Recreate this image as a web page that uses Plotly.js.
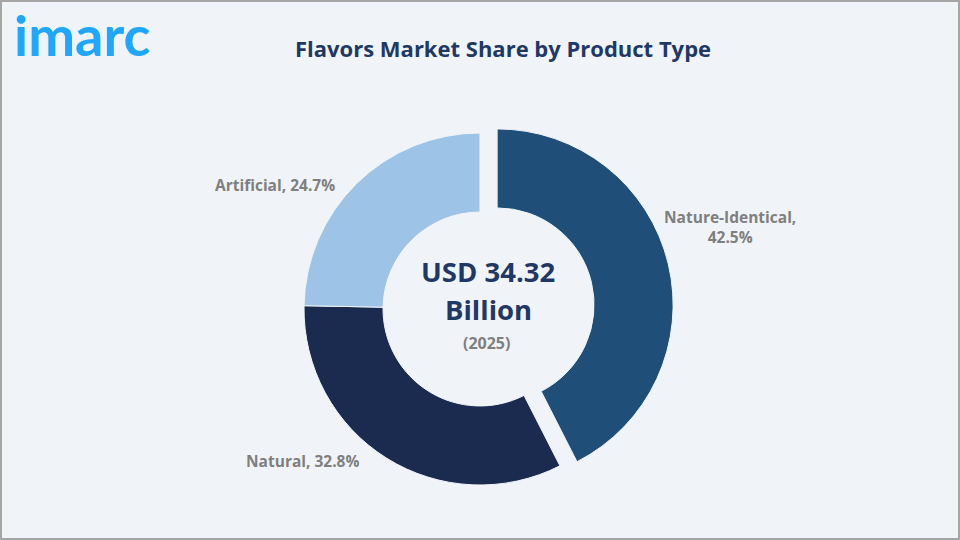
<!DOCTYPE html>
<html><head><meta charset="utf-8">
<script src="https://cdn.plot.ly/plotly-3.0.1.min.js"></script>
<style>html,body{margin:0;padding:0;background:#f0f4f9}#c{width:960px;height:540px}</style>
</head><body><div id="c"></div>
<script>
const categories = ["Nature-Identical", "Natural", "Artificial"];
const shares = [42.5, 32.8, 24.7];
const sliceColors = ["#1f4e79", "#1a2b4f", "#9dc3e6"];
const pulls = [0.1, 0, 0];
const labelTexts = ["Nature-Identical,<br>42.5%", "Natural, 32.8%", "Artificial, 24.7%"];
const labelX = [730, 302, 275];
const labelY = [227, 461, 185];
const W = 960, H = 540;
const px = x => x / W, py = y => 1 - y / H;
const cx = 480, cy = 309, rOuter = 176, maxPull = 0.1;
const half = rOuter * (1 + maxPull);
const textAnn = (text, x, y, size, color, weight, family) => ({
  text, x: px(x), y: py(y), xref: "paper", yref: "paper", showarrow: false,
  xanchor: "center", yanchor: "middle",
  font: {size, color, family: family || "'Open Sans', sans-serif", weight: weight || 700}
});
const annotations = categories.map((c, i) =>
  textAnn(labelTexts[i], labelX[i], labelY[i], 15.5, "#7f7f7f", 700));
annotations.push(textAnn("USD 34.32", 488, 271, 27.5, "#1f3864", 700));
annotations.push(textAnn("Billion", 488, 309, 27.5, "#1f3864", 700));
annotations.push(textAnn("(2025)", 486, 343, 16, "#7f7f7f", 700));
annotations.push(textAnn("imarc", 82, 35, 56, "#1ea7fd", 700, "'Lato', sans-serif"));
annotations.push(textAnn("Flavors Market Share by Product Type", 503, 48, 22, "#1f3864", 700));
Plotly.newPlot("c", [{
  type: "pie", labels: categories, values: shares, hole: 0.551, sort: false,
  direction: "clockwise", rotation: 0, pull: pulls, textinfo: "none", hoverinfo: "label+percent",
  marker: {colors: sliceColors, line: {color: "#f0f4f9", width: 1}},
  domain: {x: [px(cx - half), px(cx + half)], y: [py(cy + half), py(cy - half)]},
  showlegend: false
}], {
  width: W, height: H, margin: {l: 0, r: 0, t: 0, b: 0},
  paper_bgcolor: "#f0f4f9", showlegend: false, annotations,
  shapes: [{type: "rect", xref: "paper", yref: "paper", x0: 0, x1: 1, y0: 0, y1: 1,
    line: {color: "#a6a6a6", width: 4}, fillcolor: "rgba(0,0,0,0)"}]
}, {displayModeBar: false});
</script></body></html>
